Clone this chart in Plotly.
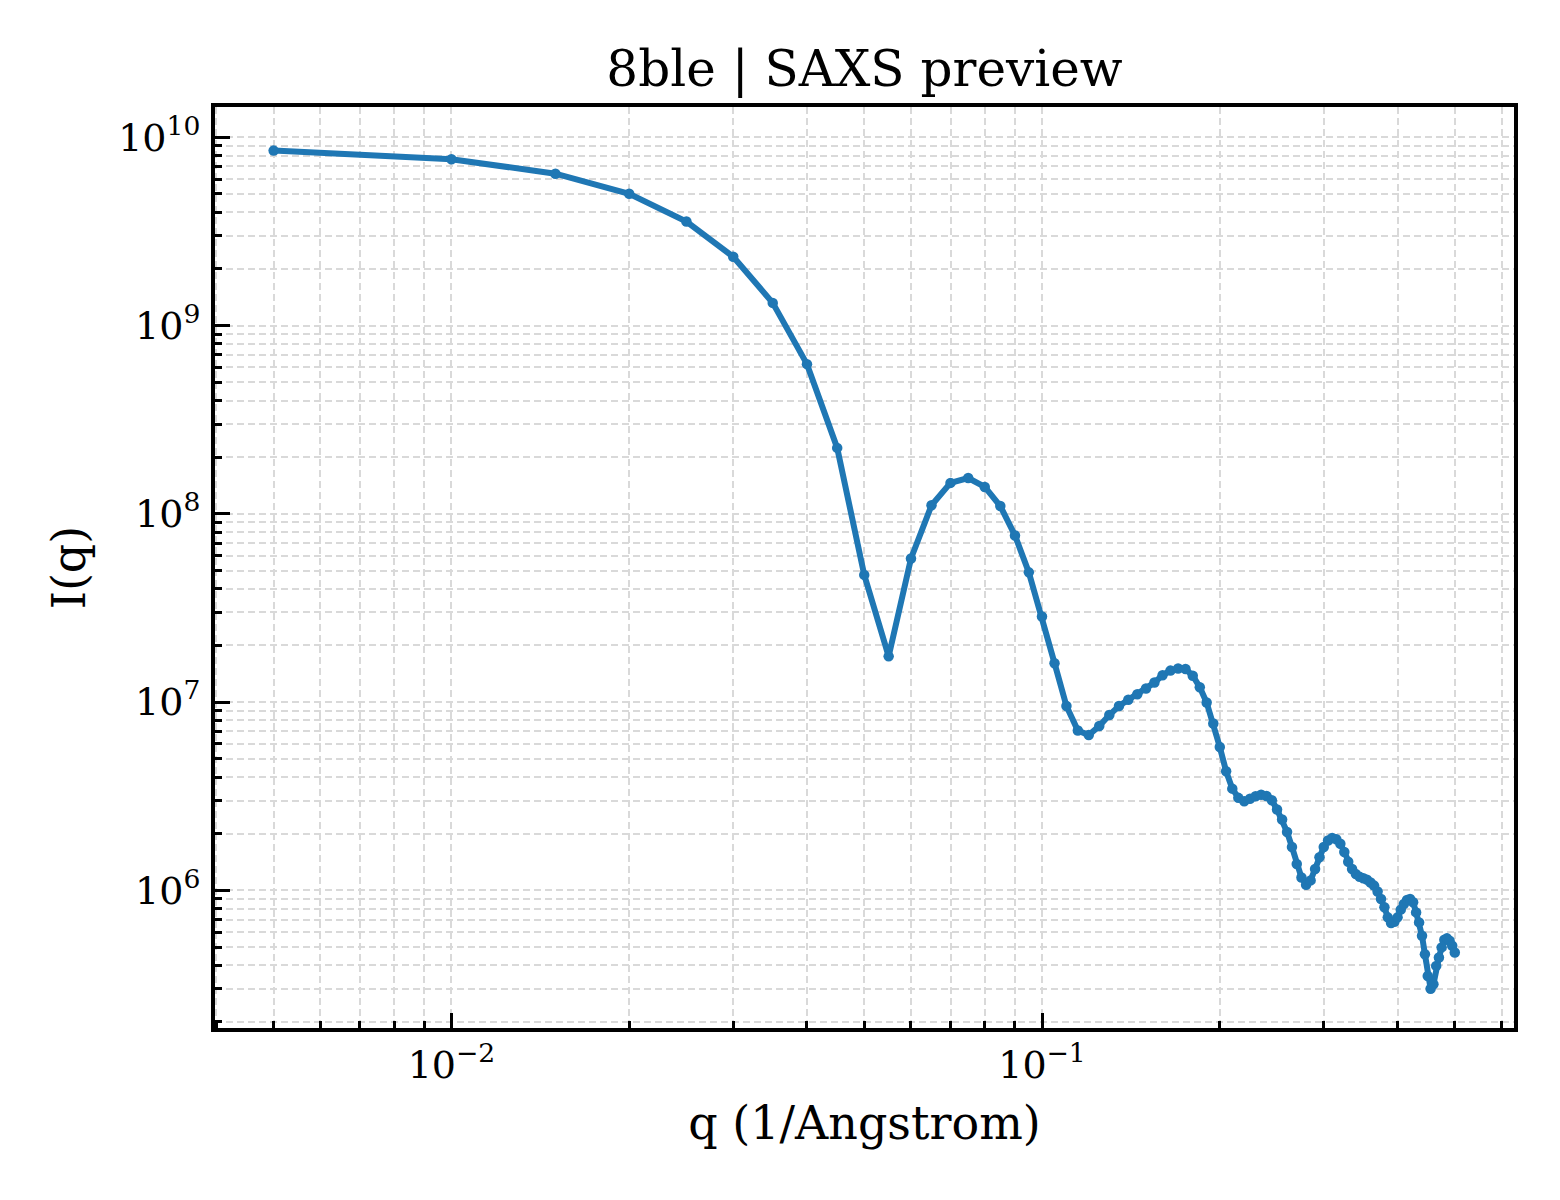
import plotly.graph_objects as go

# ---- data ----
q_values = [
    0.005, 0.010, 0.015, 0.020, 0.025, 0.030, 0.035, 0.040, 0.045, 0.050,
    0.055, 0.060, 0.065, 0.070, 0.075, 0.080, 0.085, 0.090, 0.095, 0.100,
    0.105, 0.110, 0.115, 0.120, 0.125, 0.130, 0.135, 0.140, 0.145, 0.150,
    0.155, 0.160, 0.165, 0.170, 0.175, 0.180, 0.185, 0.190, 0.195, 0.200,
    0.205, 0.210, 0.215, 0.220, 0.225, 0.230, 0.235, 0.240, 0.245, 0.250,
    0.255, 0.260, 0.265, 0.270, 0.275, 0.280, 0.285, 0.290, 0.295, 0.300,
    0.305, 0.310, 0.315, 0.320, 0.325, 0.330, 0.335, 0.340, 0.345, 0.350,
    0.355, 0.360, 0.365, 0.370, 0.375, 0.380, 0.385, 0.390, 0.395, 0.400,
    0.405, 0.410, 0.415, 0.420, 0.425, 0.430, 0.435, 0.440, 0.445, 0.450,
    0.455, 0.460, 0.465, 0.470, 0.475, 0.480, 0.485, 0.490, 0.495, 0.500,
]

intensity = [
    8.5e9, 7.65e9, 6.41e9, 5.01e9, 3.57e9, 2.32e9, 1.32e9, 6.24e8, 2.24e8, 4.74e7,
    1.75e7, 5.79e7, 1.11e8, 1.46e8, 1.55e8, 1.39e8, 1.10e8, 7.67e7, 4.89e7, 2.85e7,
    1.61e7, 9.53e6, 7.06e6, 6.68e6, 7.46e6, 8.54e6, 9.53e6, 1.03e7, 1.10e7, 1.18e7,
    1.27e7, 1.39e7, 1.47e7, 1.51e7, 1.50e7, 1.38e7, 1.20e7, 9.96e6, 7.70e6, 5.78e6,
    4.29e6, 3.47e6, 3.10e6, 2.97e6, 3.07e6, 3.16e6, 3.22e6, 3.17e6, 3.01e6, 2.69e6,
    2.38e6, 2.04e6, 1.70e6, 1.38e6, 1.17e6, 1.07e6, 1.13e6, 1.30e6, 1.50e6, 1.70e6,
    1.84e6, 1.90e6, 1.87e6, 1.77e6, 1.60e6, 1.42e6, 1.30e6, 1.22e6, 1.18e6, 1.16e6,
    1.14e6, 1.10e6, 1.06e6, 9.86e5, 9.00e5, 8.13e5, 7.19e5, 6.70e5, 6.81e5, 7.19e5,
    7.90e5, 8.47e5, 8.89e5, 9.00e5, 8.64e5, 7.64e5, 6.76e5, 5.74e5, 4.58e5, 3.51e5,
    3.00e5, 3.17e5, 3.97e5, 4.40e5, 4.98e5, 5.47e5, 5.56e5, 5.40e5, 5.08e5, 4.68e5,
]

x_major_vals = [0.01, 0.1]
x_major_text = ["10<sup>\u22122</sup>", "10<sup>\u22121</sup>"]
y_major_vals = [1e6, 1e7, 1e8, 1e9, 1e10]
y_major_text = ["10<sup>6</sup>", "10<sup>7</sup>", "10<sup>8</sup>",
                "10<sup>9</sup>", "10<sup>10</sup>"]

title_text = "8ble | SAXS preview"
x_label = "q (1/Angstrom)"
y_label = "I(q)"

# minor tick positions (2..9 within each decade)
x_minor_vals = [m * 10.0 ** e for e in (-3, -2, -1) for m in range(2, 10)]
y_minor_vals = [m * 10.0 ** e for e in (5, 6, 7, 8, 9) for m in range(2, 10)]

FONT = "DejaVu Serif"
GRID = "#d9d9d9"
DASH = "7px,4px"

fig = go.Figure()
fig.add_trace(go.Scatter(
    x=q_values, y=intensity, mode="lines+markers",
    line=dict(color="#1f77b4", width=6),
    marker=dict(color="#1f77b4", size=10.5),
    showlegend=False,
))

axis_common = dict(
    type="log",
    showline=True, linecolor="black", linewidth=4, mirror=True,
    ticks="inside", ticklen=15, tickwidth=3, tickcolor="black",
    showgrid=True, gridcolor=GRID, griddash=DASH, gridwidth=1.5,
    zeroline=False,
    tickfont=dict(family=FONT, size=38, color="black"),
    tickmode="array",
)

minor_common = dict(tickmode="array", ticks="inside", ticklen=7, tickwidth=2.5,
                    tickcolor="black", showgrid=True, gridcolor=GRID,
                    griddash=DASH, gridwidth=1.5)

W, H = 1552, 1192  # page has an 8px body margin
fig.update_layout(
    width=W, height=H,
    paper_bgcolor="white", plot_bgcolor="white",
    margin=dict(l=207, r=46, t=99, b=172),
    font=dict(family=FONT, color="black"),
    title=dict(text=title_text, x=0.5, xref="paper", xanchor="center",
               y=1 - 60 / H, yref="container", yanchor="middle",
               font=dict(family=FONT, size=50, color="black")),
    xaxis=dict(
        **axis_common,
        range=[-2.4003, -0.2008],
        tickvals=x_major_vals, ticktext=x_major_text,
        ticklabelstandoff=0,
        minor=dict(**minor_common, tickvals=x_minor_vals),
        title=dict(text=x_label, font=dict(family=FONT, size=46, color="black"),
                   standoff=22),
    ),
    yaxis=dict(
        **axis_common,
        range=[5.269, 10.161],
        tickvals=y_major_vals, ticktext=y_major_text,
        ticklabelstandoff=3,
        minor=dict(**minor_common, tickvals=y_minor_vals),
        title=dict(text=y_label, font=dict(family=FONT, size=46, color="black"),
                   standoff=19),
    ),
)

fig.write_html("out.html")
